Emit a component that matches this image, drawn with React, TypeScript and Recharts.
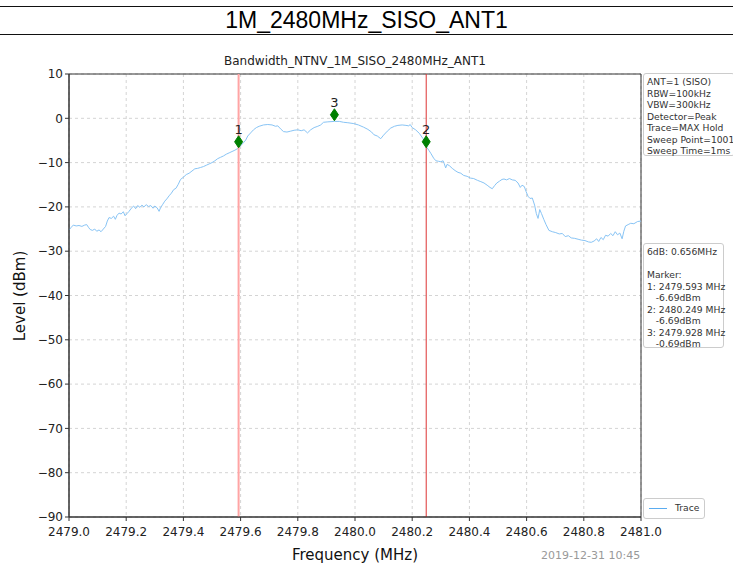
import React from "react";
import {
  ComposedChart,
  Line,
  Scatter,
  XAxis,
  YAxis,
  CartesianGrid,
  ReferenceLine,
  ReferenceArea,
  LabelList,
} from "recharts";

// trace (MHz, dBm)
const freqs = [
  2479.0, 2479.008, 2479.015, 2479.025, 2479.035, 2479.045, 2479.055, 2479.062, 2479.068, 2479.074,
  2479.082, 2479.09, 2479.097, 2479.105, 2479.112, 2479.12, 2479.128, 2479.134, 2479.14, 2479.148,
  2479.156, 2479.162, 2479.168, 2479.175, 2479.182, 2479.19, 2479.196, 2479.203, 2479.21, 2479.218,
  2479.226, 2479.233, 2479.24, 2479.248, 2479.255, 2479.262, 2479.27, 2479.278, 2479.286, 2479.294,
  2479.3, 2479.308, 2479.315, 2479.32, 2479.328, 2479.335, 2479.342, 2479.35, 2479.358, 2479.366,
  2479.374, 2479.382, 2479.39, 2479.4, 2479.41, 2479.42, 2479.43, 2479.44, 2479.45, 2479.46,
  2479.47, 2479.48, 2479.49, 2479.5, 2479.51, 2479.52, 2479.53, 2479.54, 2479.55, 2479.56,
  2479.57, 2479.58, 2479.593, 2479.6, 2479.61, 2479.618, 2479.625, 2479.635, 2479.645, 2479.655,
  2479.665, 2479.68, 2479.695, 2479.71, 2479.722, 2479.73, 2479.74, 2479.75, 2479.762, 2479.775,
  2479.787, 2479.8, 2479.812, 2479.822, 2479.834, 2479.845, 2479.857, 2479.87, 2479.88, 2479.89,
  2479.905, 2479.928, 2479.945, 2479.96, 2479.975, 2479.996, 2480.012, 2480.03, 2480.045, 2480.058,
  2480.066, 2480.078, 2480.09, 2480.1, 2480.113, 2480.125, 2480.138, 2480.15, 2480.165, 2480.178,
  2480.188, 2480.193, 2480.2, 2480.212, 2480.225, 2480.238, 2480.249, 2480.258, 2480.266, 2480.275,
  2480.283, 2480.292, 2480.3, 2480.308, 2480.312, 2480.317, 2480.322, 2480.33, 2480.34, 2480.35,
  2480.36, 2480.37, 2480.38, 2480.392, 2480.404, 2480.415, 2480.428, 2480.44, 2480.451, 2480.462,
  2480.472, 2480.48, 2480.488, 2480.496, 2480.505, 2480.514, 2480.521, 2480.53, 2480.54, 2480.55,
  2480.56, 2480.57, 2480.578, 2480.584, 2480.592, 2480.598, 2480.605, 2480.612, 2480.62, 2480.628,
  2480.634, 2480.64, 2480.646, 2480.652, 2480.66, 2480.668, 2480.678, 2480.69, 2480.702, 2480.714,
  2480.725, 2480.735, 2480.746, 2480.756, 2480.768, 2480.78, 2480.792, 2480.804, 2480.816, 2480.826,
  2480.836, 2480.845, 2480.852, 2480.86, 2480.868, 2480.876, 2480.885, 2480.894, 2480.902, 2480.91,
  2480.918, 2480.926, 2480.934, 2480.94, 2480.946, 2480.955, 2480.964, 2480.975, 2480.988, 2481.0,
];

const levels = [
  -25.2, -24.6, -24.1, -24.3, -24.2, -24.4, -24.1, -24.0, -24.6, -25.1,
  -25.3, -25.0, -25.5, -25.2, -25.6, -25.0, -24.4, -23.2, -22.4, -22.6,
  -22.1, -22.8, -21.9, -21.4, -21.6, -21.1, -22.0, -21.5, -21.0, -20.3,
  -19.8, -20.4, -19.7, -20.1, -19.6, -20.0, -19.5, -19.9, -19.7, -20.3,
  -19.8, -20.2, -21.0, -20.2, -19.4, -18.7, -18.2, -17.5, -16.9, -16.1,
  -15.8, -14.9, -13.8, -13.3, -12.7, -12.4, -11.9, -11.4, -11.3, -11.1,
  -10.9, -10.6, -10.3, -10.0, -9.6, -9.1, -8.8, -8.5, -8.1, -7.8,
  -7.5, -7.2, -6.7, -6.2, -5.5, -4.9, -4.0, -3.3, -2.6, -2.1,
  -1.8, -1.5, -1.4, -1.5, -1.8, -1.7, -2.4, -3.0, -3.1, -2.9,
  -2.7, -2.6, -2.8, -2.6, -3.3, -2.6, -2.1, -1.8, -1.5, -0.9,
  -0.8, -0.7, -0.7, -0.9, -1.0, -1.2, -1.5, -2.0, -2.5, -3.1,
  -3.7, -4.0, -4.6, -3.8, -2.9, -2.2, -1.8, -1.6, -1.5, -1.6,
  -1.7, -1.4, -2.1, -2.6, -3.4, -4.6, -6.4, -7.2, -8.0, -9.0,
  -9.6, -9.7, -9.8, -9.6, -10.2, -11.2, -10.4, -10.7, -11.3, -11.8,
  -12.2, -12.4, -12.9, -13.1, -13.5, -13.6, -14.0, -14.3, -14.6, -15.1,
  -15.6, -15.9, -15.2, -14.6, -14.2, -13.8, -13.7, -13.9, -13.6, -13.9,
  -14.0, -14.6, -15.6, -15.1, -15.4, -16.5, -17.6, -18.1, -18.0, -19.6,
  -21.5, -22.6, -20.6, -21.5, -22.8, -24.0, -25.3, -25.6, -25.8, -26.1,
  -26.0, -26.7, -26.5, -27.0, -27.1, -27.3, -27.5, -27.6, -27.9, -28.0,
  -27.7, -27.2, -27.8, -26.9, -27.4, -26.4, -26.6, -26.0, -26.5, -25.6,
  -26.3, -25.9, -27.2, -25.5, -24.3, -24.0, -23.7, -23.8, -23.3, -23.2,
];

const markerNames = ["1", "2", "3"];
const markerFreqs = [2479.593, 2480.249, 2479.928];
const markerLevels = [-5.3, -5.3, 0.8];

const xTicks = [2479.0, 2479.2, 2479.4, 2479.6, 2479.8, 2480.0, 2480.2, 2480.4, 2480.6, 2480.8, 2481.0];
const yTicks = [-90, -80, -70, -60, -50, -40, -30, -20, -10, 0, 10];

const settingsLines = [
  "ANT=1 (SISO)",
  "RBW=100kHz",
  "VBW=300kHz",
  "Detector=Peak",
  "Trace=MAX Hold",
  "Sweep Point=1001",
  "Sweep Time=1ms",
];
const markerLines = [
  "6dB: 0.656MHz",
  "",
  "Marker:",
  "1: 2479.593 MHz",
  "   -6.69dBm",
  "2: 2480.249 MHz",
  "   -6.69dBm",
  "3: 2479.928 MHz",
  "   -0.69dBm",
];

const trace = freqs.map((f, i) => ({ f, level: levels[i] }));
const markers = markerFreqs.map((f, i) => ({ f, level: markerLevels[i], name: markerNames[i] }));

const FONT = "'DejaVu Sans', sans-serif";
const minus = (v: number) => (v < 0 ? "\u2212" + Math.abs(v) : String(v));

const Diamond = (props: any) => {
  const { cx, cy } = props;
  if (cx == null || cy == null) return null;
  return (
    <polygon
      points={`${cx},${cy - 6} ${cx + 4},${cy} ${cx},${cy + 6} ${cx - 4},${cy}`}
      fill="#008000"
      stroke="#008000"
    />
  );
};

const boxStyle: React.CSSProperties = {
  position: "absolute",
  border: "1px solid #cccccc",
  borderRadius: 3,
  background: "#fff",
  fontFamily: FONT,
  fontSize: 9.2,
  lineHeight: "11.5px",
  color: "#333",
  padding: "2px 3px",
  whiteSpace: "pre",
  boxSizing: "border-box",
};

export default function App() {
  return (
    <div
      style={{
        position: "absolute",
        left: 0,
        top: 0,
        width: 733,
        height: 569,
        overflow: "hidden",
        background: "#fff",
        fontFamily: FONT,
      }}
    >
      <div style={{ position: "absolute", left: 0, top: 6, width: 733, borderTop: "1.5px solid #111" }} />
      <div
        style={{
          position: "absolute",
          left: 0,
          top: 7,
          width: 733,
          textAlign: "center",
          fontFamily: "'Liberation Sans', Arial, sans-serif",
          fontSize: 23,
          lineHeight: "27px",
          color: "#000",
        }}
      >
        1M_2480MHz_SISO_ANT1
      </div>
      <div style={{ position: "absolute", left: 0, top: 34, width: 733, borderTop: "1.5px solid #111" }} />

      <div
        style={{
          position: "absolute",
          left: 69,
          top: 54,
          width: 572,
          textAlign: "center",
          fontSize: 12,
          color: "#222",
        }}
      >
        Bandwidth_NTNV_1M_SISO_2480MHz_ANT1
      </div>

      <div style={{ position: "absolute", left: 0, top: 0 }}>
        <ComposedChart
          width={733}
          height={569}
          data={trace}
          margin={{ top: 74, right: 92, bottom: 22, left: 29 }}
        >
          <CartesianGrid stroke="#d4d4d4" strokeDasharray="3 3" />
          <XAxis
            dataKey="f"
            type="number"
            domain={[2479, 2481]}
            ticks={xTicks}
            tickFormatter={(v: number) => v.toFixed(1)}
            allowDataOverflow
            height={30}
            tickSize={4}
            tickMargin={6}
            tick={{ fill: "#222", fontSize: 12, fontFamily: FONT }}
            stroke="#333"
          />
          <YAxis
            type="number"
            domain={[-90, 10]}
            ticks={yTicks}
            tickFormatter={minus}
            allowDataOverflow
            width={40}
            tickSize={4}
            tick={{ fill: "#222", fontSize: 12, fontFamily: FONT }}
            stroke="#333"
          />
          <ReferenceArea
            x1={2479}
            x2={2481}
            y1={-90}
            y2={10}
            fill="none"
            stroke="#333"
            strokeWidth={1}
            ifOverflow="visible"
          />
          <Line
            dataKey="level"
            type="linear"
            stroke="#88c4f5"
            strokeWidth={1}
            dot={false}
            isAnimationActive={false}
          />
          <ReferenceLine x={markerFreqs[0]} stroke="#ffa4a4" strokeWidth={2} />
          <ReferenceLine x={markerFreqs[1]} stroke="#dd3333" strokeWidth={1} />
          <Scatter data={markers} dataKey="level" shape={<Diamond />} isAnimationActive={false}>
            <LabelList
              dataKey="name"
              position="top"
              offset={3}
              style={{ fill: "#222", fontSize: 13, fontFamily: FONT }}
            />
          </Scatter>
        </ComposedChart>
      </div>

      <div
        style={{
          position: "absolute",
          left: 20,
          top: 296,
          transform: "translate(-50%, -50%) rotate(-90deg)",
          fontSize: 15,
          color: "#111",
          whiteSpace: "nowrap",
        }}
      >
        Level (dBm)
      </div>
      <div
        style={{
          position: "absolute",
          left: 69,
          top: 546,
          width: 572,
          textAlign: "center",
          fontSize: 15,
          color: "#111",
        }}
      >
        Frequency (MHz)
      </div>
      <div
        style={{
          position: "absolute",
          left: 541,
          top: 549,
          fontSize: 11,
          color: "#999",
        }}
      >
        2019-12-31 10:45
      </div>

      <div style={{ ...boxStyle, left: 643, top: 73, width: 92, height: 83 }}>
        {settingsLines.join("\n")}
      </div>
      <div style={{ ...boxStyle, left: 643, top: 243, width: 81, height: 105 }}>
        {markerLines.join("\n")}
      </div>
      <div style={{ ...boxStyle, left: 643, top: 498, width: 62, height: 21 }}>
        <span
          style={{
            position: "absolute",
            left: 5,
            top: 9,
            width: 18,
            borderTop: "1.5px solid #5aacf0",
          }}
        />
        <span style={{ position: "absolute", left: 31, top: 3 }}>Trace</span>
      </div>
    </div>
  );
}
